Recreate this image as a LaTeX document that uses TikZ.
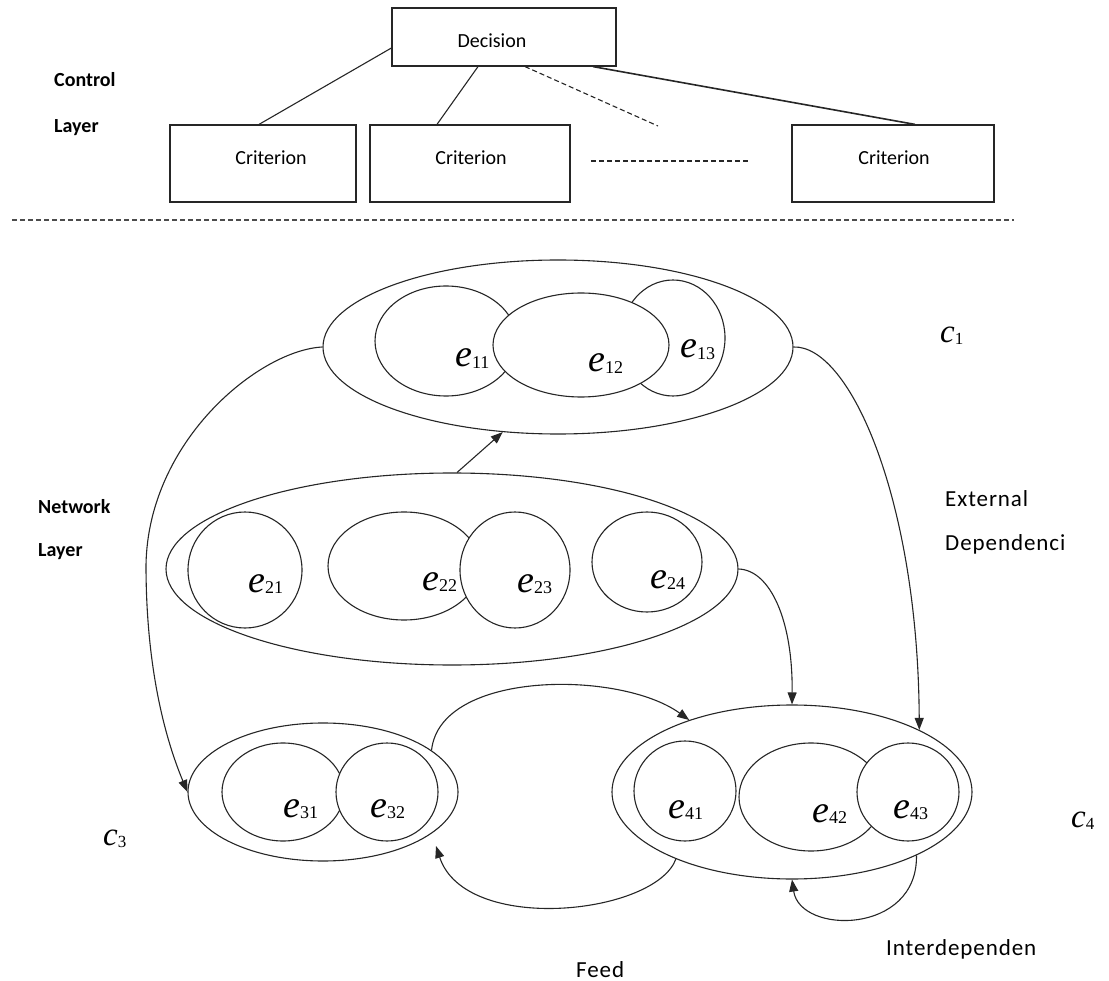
\documentclass[tikz,border=0pt]{standalone}
\usepackage{fontspec}
\setmainfont{Carlito}
\newfontfamily\tnr{Liberation Serif}
\usetikzlibrary{shapes.geometric,arrows.meta}
\newcommand\elab[2]{{\fontsize{38}{38}\tnr\itshape #1}\raisebox{-1.5pt}{\fontsize{18}{18}\tnr #2}}
\newcommand\clab[1]{{\fontsize{33}{33}\tnr\itshape c}\raisebox{-2pt}{\fontsize{17}{17}\tnr #1}}
\begin{document}
\begin{tikzpicture}[x=1pt,y=-1pt,
  ell/.style={draw=black!85,fill=white,ellipse,inner sep=0pt,line width=1.1pt},
  box/.style={draw=black!85,rectangle,inner sep=0pt,line width=1.2pt},
  con/.style={draw=black!85,line width=1.1pt},
  arr/.style={con,-{Triangle[length=12pt,width=9pt]}},
  dsh/.style={con,dash pattern=on 5pt off 3pt},
  lbl/.style={inner sep=0pt,anchor=base west},
  ctr/.style={inner sep=0pt,anchor=base},
  topf/.style={font=\fontsize{20}{20}\selectfont},
  boldf/.style={font=\fontsize{20}{20}\selectfont\bfseries},
  netf/.style={font=\fontsize{23}{23}\selectfont\addfontfeature{LetterSpace=4}}
]
\useasboundingbox (0,0) rectangle (1109,981);

% ---------- control layer ----------
\node[box,minimum width=224pt,minimum height=58pt] (dec) at (504,37) {};
\node[ctr,topf] (dect) at (492,48) {Decision};
\node[box,minimum width=186pt,minimum height=77pt] (b1) at (263,163.5) {};
\node[box,minimum width=200pt,minimum height=77pt] (b2) at (470,163.5) {};
\node[box,minimum width=202pt,minimum height=77pt] (b3) at (893,163.5) {};
\node[ctr,topf] (b1t) at (271,165) {Criterion};
\node[ctr,topf] (b2t) at (471,165) {Criterion};
\node[ctr,topf] (b3t) at (894,165) {Criterion};
\node[lbl,boldf] (ctl) at (54,87) {Control};
\node[lbl,boldf] (lay1) at (54,133) {Layer};

\draw[con] ([yshift=-11pt]dec.west) -- ([xshift=-4pt]b1.north);
\draw[con] ([xshift=-26pt]dec.south) -- ([xshift=-33pt]b2.north);
\coordinate (dend) at (658,126);
\draw[dsh] ([xshift=21pt]dec.south) -- (dend);
\draw[con,line width=1.6pt] ([xshift=89pt]dec.south) -- ([xshift=22pt]b3.north);
\coordinate (h1) at (591,161);
\coordinate (h2) at (748,161);
\draw[dsh] (h1) -- (h2);
\coordinate (s1) at (12,220);
\coordinate (s2) at (1014,220);
\draw[dsh,draw=black!70] (s1) -- (s2);

% ---------- network layer ----------
\node[lbl,boldf] (net) at (38,513) {Network};
\node[lbl,boldf] (lay2) at (38,556) {Layer};

% C1
\node[ell,minimum width=470pt,minimum height=174pt] (C1) at (558,347) {};
\node[ell,minimum width=142pt,minimum height=110pt] (e11) at (446,341) {};
\node[ell,minimum width=104pt,minimum height=116pt] (e13) at (673,338) {};
\node[ell,minimum width=176pt,minimum height=104pt] (e12) at (581,345) {};
\node[lbl] (l11) at (455,367) {\elab{e}{11}};
\node[lbl] (l12) at (588,372) {\elab{e}{12}};
\node[lbl] (l13) at (680,358) {\elab{e}{13}};

% C2
\node[ell,minimum width=572pt,minimum height=192pt] (C2) at (452,569) {};
\node[ell,minimum width=114pt,minimum height=116pt] (e21) at (245,570) {};
\node[ell,minimum width=152pt,minimum height=108pt] (e22) at (404,566) {};
\node[ell,minimum width=110pt,minimum height=116pt] (e23) at (515,570) {};
\node[ell,minimum width=110pt,minimum height=100pt] (e24) at (647,562) {};
\node[lbl] (l21) at (248,592) {\elab{e}{21}};
\node[lbl] (l22) at (422,590) {\elab{e}{22}};
\node[lbl] (l23) at (517,592) {\elab{e}{23}};
\node[lbl] (l24) at (650,588) {\elab{e}{24}};

% C3
\node[ell,minimum width=270pt,minimum height=138pt] (C3) at (323,792) {};
\node[ell,minimum width=122pt,minimum height=98pt] (e31) at (283,792) {};
\node[ell,minimum width=102pt,minimum height=98pt] (e32) at (387,792) {};
\node[lbl] (l31) at (283,817) {\elab{e}{31}};
\node[lbl] (l32) at (370,817) {\elab{e}{32}};

% C4
\node[ell,minimum width=360pt,minimum height=174pt] (C4) at (792,792) {};
\node[ell,minimum width=102pt,minimum height=100pt] (e41) at (685,791) {};
\node[ell,minimum width=144pt,minimum height=108pt] (e42) at (811,797) {};
\node[ell,minimum width=102pt,minimum height=98pt] (e43) at (908,792) {};
\node[lbl] (l41) at (668,818) {\elab{e}{41}};
\node[lbl] (l42) at (812,822) {\elab{e}{42}};
\node[lbl] (l43) at (893,818) {\elab{e}{43}};

% cluster labels
\node[lbl] (c1) at (940,343) {\clab{1}};
\node[lbl] (c3) at (103,845) {\clab{3}};
\node[lbl] (c4) at (1071,827) {\clab{4}};

% text labels
\node[lbl,netf] (ext) at (945,507) {External};
\node[lbl,netf] (dep) at (945,550) {Dependenci};
\node[lbl,netf] (intd) at (886,955) {Interdependen};
\node[lbl,netf] (feed) at (576,977) {Feed};

% connectors
\draw[arr] (C1.west) .. controls (260,350) and (148,440) .. (146,565)
           .. controls (146,680) and (170,750) .. (C3.west);
\draw[arr] (C1.east) .. controls (850,345) and (918,500) .. (C4.26);
\draw[arr] (C2.east) .. controls (770,570) and (793,620) .. (C4.north);
\draw[arr] (C2.87) -- (C1.237);
\draw[arr] (C3.21) .. controls (440,670) and (620,670) .. (C4.145);
\coordinate (f3) at (436,846);
\draw[arr] (C4.210) .. controls (655,915) and (465,935) .. (f3);
\draw[arr] (C4.333) .. controls (918,935) and (800,935) .. (C4.south);
\end{tikzpicture}
\end{document}
